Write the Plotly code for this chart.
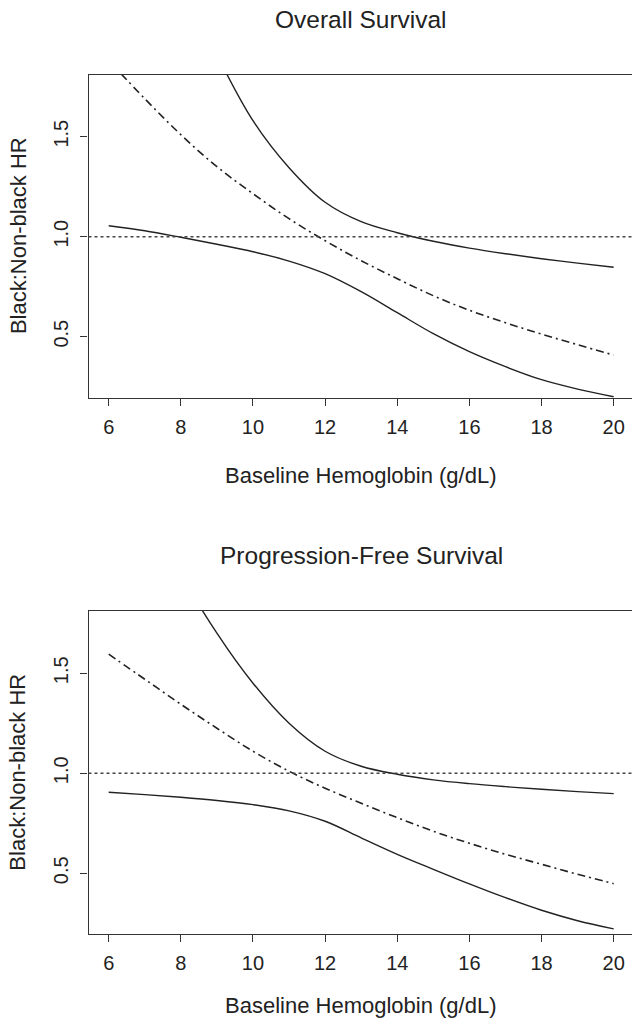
import plotly.graph_objects as go

# ---- data ----
hgb = [6, 7, 8, 9, 10, 11, 12, 13, 14, 15, 16, 17, 18, 19, 20]

os_upper = [3.40, 2.80, 2.30, 1.91, 1.58, 1.345, 1.172, 1.075, 1.02, 0.977, 0.943, 0.915, 0.89, 0.868, 0.847]
os_est = [1.88, 1.69, 1.51, 1.35, 1.215, 1.09, 0.98, 0.88, 0.79, 0.705, 0.632, 0.57, 0.513, 0.46, 0.408]
os_lower = [1.055, 1.03, 0.997, 0.962, 0.925, 0.878, 0.815, 0.725, 0.62, 0.515, 0.425, 0.35, 0.285, 0.238, 0.20]

pfs_upper = [2.9, 2.4, 2.0, 1.70, 1.45, 1.25, 1.11, 1.035, 0.995, 0.967, 0.948, 0.933, 0.92, 0.908, 0.898]
pfs_est = [1.595, 1.47, 1.345, 1.225, 1.11, 1.01, 0.925, 0.85, 0.778, 0.71, 0.65, 0.595, 0.545, 0.495, 0.448]
pfs_lower = [0.905, 0.893, 0.88, 0.864, 0.843, 0.812, 0.76, 0.677, 0.595, 0.52, 0.447, 0.378, 0.315, 0.263, 0.222]

x_ticks = [6, 8, 10, 12, 14, 16, 18, 20]
y_ticks = [0.5, 1.0, 1.5]
y_tick_text = ["0.5", "1.0", "1.5"]
ref_line = 1.0

titles = ["Overall Survival", "Progression-Free Survival"]
x_title = "Baseline Hemoglobin (g/dL)"
y_title = "Black:Non-black HR"

W, H = 632, 1027
FONT = "Liberation Sans, Arial, Helvetica, sans-serif"
INK = "#222222"

fig = go.Figure()

panels = [
    ("x", "y", os_upper, os_est, os_lower),
    ("x2", "y2", pfs_upper, pfs_est, pfs_lower),
]
for xa, ya, up, est, lo in panels:
    for vals, dash, w in [(up, "solid", 1.4), (est, "8px,4px,2px,4px", 1.6), (lo, "solid", 1.4)]:
        fig.add_trace(go.Scatter(
            x=hgb, y=vals, xaxis=xa, yaxis=ya, mode="lines",
            line=dict(color=INK, width=w, dash=dash, shape="spline", smoothing=1.0),
            showlegend=False, hoverinfo="skip"))
    # horizontal reference line at HR = 1
    fig.add_shape(type="line", xref=f"{xa} domain", yref=ya,
                  x0=0, x1=1, y0=ref_line, y1=ref_line,
                  line=dict(color="#444444", width=1.4, dash="dot"))

# pixel geometry of the two plot boxes
left_px, right_px = 88.5, 632
top_boxes = [(74.5, 397.7), (611.0, 934.3)]

xrange_ = [5.44, 5.44 + (right_px - left_px) / 36.07]
yrange_ = [0.195, 1.811]

axis_common = dict(
    showline=True, linecolor="#333333", linewidth=1.3, mirror=True,
    ticks="outside", ticklen=7, tickwidth=1, tickcolor="#333333",
    showgrid=False, zeroline=False,
    tickfont=dict(family=FONT, size=20, color=INK),
)

layout = dict(
    width=W, height=H,
    margin=dict(l=0, r=0, t=0, b=0),
    paper_bgcolor="white", plot_bgcolor="white",
    font=dict(family=FONT, color=INK),
)

for i, (t, b) in enumerate(top_boxes):
    sfx = "" if i == 0 else "2"
    dom_y = [1 - b / H, 1 - t / H]
    dom_x = [left_px / W, right_px / W]
    layout[f"xaxis{sfx}"] = dict(
        axis_common, domain=dom_x, range=xrange_, tickvals=x_ticks,
        anchor=f"y{sfx}", ticklabelstandoff=4,
    )
    layout[f"yaxis{sfx}"] = dict(
        axis_common, domain=dom_y, range=yrange_, tickvals=y_ticks,
        ticktext=y_tick_text, tickangle=-90, anchor=f"x{sfx}",
        ticklabelstandoff=4,
    )

fig.update_layout(**layout)

annotations = []
title_y = [20, 555]
xtitle_y = [475, 1005]
for i in range(2):
    annotations.append(dict(
        text=titles[i], x=(left_px + 634) / 2 / W, y=1 - title_y[i] / H,
        xref="paper", yref="paper", showarrow=False,
        xanchor="center", yanchor="middle",
        font=dict(family=FONT, size=24.5, color=INK)))
    annotations.append(dict(
        text=x_title, x=(left_px + 634) / 2 / W, y=1 - xtitle_y[i] / H,
        xref="paper", yref="paper", showarrow=False,
        xanchor="center", yanchor="middle",
        font=dict(family=FONT, size=22, color=INK)))
    t, b = top_boxes[i]
    annotations.append(dict(
        text=y_title, x=18 / W, y=1 - (t + b) / 2 / H,
        xref="paper", yref="paper", showarrow=False, textangle=-90,
        xanchor="center", yanchor="middle",
        font=dict(family=FONT, size=22, color=INK)))
fig.update_layout(annotations=annotations)

fig.write_html(
    "out.html",
    config={"displayModeBar": False},
    post_script="document.body.style.margin='0';document.body.style.overflow='hidden';",
)
